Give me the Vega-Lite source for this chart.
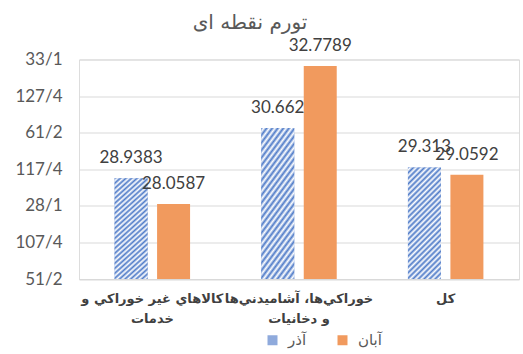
{
  "$schema": "https://vega.github.io/schema/vega-lite/v6.json",
  "width": 440,
  "height": 219.5,
  "autosize": {"type": "none"},
  "padding": {"left": 79, "top": 59.5, "right": 4, "bottom": 75},
  "background": "white",
  "title": {"text": "تورم نقطه ای", "fontSize": 20, "font": "DejaVu Sans", "fontWeight": "normal", "color": "#595959", "anchor": "middle", "dx": -49, "offset": 4},
  "data": {"values": [
    {"category": "کالاهاي غير خوراکي و خدمات", "series": "آذر", "value": 28.9383},
    {"category": "کالاهاي غير خوراکي و خدمات", "series": "آبان", "value": 28.0587},
    {"category": "خوراکي‌ها، آشاميدني‌ها و دخانيات", "series": "آذر", "value": 30.662},
    {"category": "خوراکي‌ها، آشاميدني‌ها و دخانيات", "series": "آبان", "value": 32.7789},
    {"category": "کل", "series": "آذر", "value": 29.313},
    {"category": "کل", "series": "آبان", "value": 29.0592}
  ]},
  "encoding": {
    "x": {
      "field": "category", "type": "nominal", "sort": null,
      "scale": {"paddingInner": 0, "paddingOuter": 0},
      "axis": {
        "title": null, "labelAngle": 0, "ticks": false, "domain": true, "domainColor": "#D9D9D9", "domainWidth": 1,
        "labelFont": "DejaVu Sans", "labelFontWeight": "bold", "labelFontSize": 13, "labelColor": "#404040",
        "labelPadding": 13, "labelLineHeight": 20, "labelOverlap": false, "labelBound": false, "labelLimit": 0,
        "labelExpr": "datum.value == 'کالاهاي غير خوراکي و خدمات' ? ['کالاهاي غير خوراکي و', 'خدمات'] : datum.value == 'خوراکي‌ها، آشاميدني‌ها و دخانيات' ? ['خوراکي‌ها، آشاميدني‌ها', 'و دخانيات'] : datum.value"
      }
    },
    "xOffset": {"field": "series", "type": "nominal", "sort": ["آذر", "آبان"], "scale": {"domain": ["آذر", "آبان"], "paddingInner": 0.2235, "paddingOuter": 0.838}},
    "y": {
      "field": "value", "type": "quantitative",
      "scale": {"domain": [25.5, 33], "zero": false, "nice": false},
      "axis": {
        "title": null, "values": [25.5, 26.75, 28, 29.25, 30.5, 31.75, 33],
        "grid": true, "gridColor": "#D9D9D9", "gridWidth": 1, "domain": false, "ticks": false,
        "labelFont": "Lato", "labelFontSize": 17, "labelColor": "#595959", "labelPadding": 17,
        "labelExpr": "datum.value % 1 == 0 ? datum.value + '/1' : (datum.value * 2) % 1 == 0 ? (datum.value * 2) + '/2' : (datum.value * 4) + '/4'"
      }
    }
  },
  "layer": [
    {
      "mark": {"type": "bar"},
      "encoding": {
        "y2": {"datum": 25.5},
        "color": {
          "field": "series", "type": "nominal",
          "scale": {"domain": ["آذر", "آبان"], "range": ["#8FAADC", "#F19A5E"]},
          "legend": {
            "orient": "none", "legendX": 186, "legendY": 273, "direction": "horizontal", "title": null,
            "symbolType": "square", "symbolSize": 100, "symbolStrokeWidth": 0, "padding": 0,
            "labelFont": "DejaVu Sans", "labelFontSize": 15, "labelColor": "#595959", "labelOffset": 8, "columnPadding": 28
          }
        }
      }
    },
    {
      "transform": [{"filter": "datum.series == 'آذر'"}],
      "mark": {"type": "bar", "fill": {"gradient": "linear", "x1": 0, "y1": 0, "x2": 0.35, "y2": 1.19, "stops": [
              {"offset": 0.00, "color": "#4F7BC8"}, {"offset": 0.0192, "color": "#FFFFFF"},
              {"offset": 0.0385, "color": "#4F7BC8"}, {"offset": 0.0577, "color": "#FFFFFF"},
              {"offset": 0.0769, "color": "#4F7BC8"}, {"offset": 0.0962, "color": "#FFFFFF"},
              {"offset": 0.1154, "color": "#4F7BC8"}, {"offset": 0.1346, "color": "#FFFFFF"},
              {"offset": 0.1538, "color": "#4F7BC8"}, {"offset": 0.1731, "color": "#FFFFFF"},
              {"offset": 0.1923, "color": "#4F7BC8"}, {"offset": 0.2115, "color": "#FFFFFF"},
              {"offset": 0.2308, "color": "#4F7BC8"}, {"offset": 0.2500, "color": "#FFFFFF"},
              {"offset": 0.2692, "color": "#4F7BC8"}, {"offset": 0.2885, "color": "#FFFFFF"},
              {"offset": 0.3077, "color": "#4F7BC8"}, {"offset": 0.3269, "color": "#FFFFFF"},
              {"offset": 0.3462, "color": "#4F7BC8"}, {"offset": 0.3654, "color": "#FFFFFF"},
              {"offset": 0.3846, "color": "#4F7BC8"}, {"offset": 0.4038, "color": "#FFFFFF"},
              {"offset": 0.4231, "color": "#4F7BC8"}, {"offset": 0.4423, "color": "#FFFFFF"},
              {"offset": 0.4615, "color": "#4F7BC8"}, {"offset": 0.4808, "color": "#FFFFFF"},
              {"offset": 0.5000, "color": "#4F7BC8"}, {"offset": 0.5192, "color": "#FFFFFF"},
              {"offset": 0.5385, "color": "#4F7BC8"}, {"offset": 0.5577, "color": "#FFFFFF"},
              {"offset": 0.5769, "color": "#4F7BC8"}, {"offset": 0.5962, "color": "#FFFFFF"},
              {"offset": 0.6154, "color": "#4F7BC8"}, {"offset": 0.6346, "color": "#FFFFFF"},
              {"offset": 0.6538, "color": "#4F7BC8"}, {"offset": 0.6731, "color": "#FFFFFF"},
              {"offset": 0.6923, "color": "#4F7BC8"}, {"offset": 0.7115, "color": "#FFFFFF"},
              {"offset": 0.7308, "color": "#4F7BC8"}, {"offset": 0.7500, "color": "#FFFFFF"},
              {"offset": 0.7692, "color": "#4F7BC8"}, {"offset": 0.7885, "color": "#FFFFFF"},
              {"offset": 0.8077, "color": "#4F7BC8"}, {"offset": 0.8269, "color": "#FFFFFF"},
              {"offset": 0.8462, "color": "#4F7BC8"}, {"offset": 0.8654, "color": "#FFFFFF"},
              {"offset": 0.8846, "color": "#4F7BC8"}, {"offset": 0.9038, "color": "#FFFFFF"},
              {"offset": 0.9231, "color": "#4F7BC8"}, {"offset": 0.9423, "color": "#FFFFFF"},
              {"offset": 0.9615, "color": "#4F7BC8"}, {"offset": 0.9808, "color": "#FFFFFF"},
              {"offset": 1.0000, "color": "#4F7BC8"}
            ]}},
      "encoding": {"y2": {"datum": 25.5}}
    },
    {
      "mark": {"type": "text", "font": "Lato", "fontSize": 17, "color": "#404040", "baseline": "alphabetic", "dy": -15},
      "encoding": {"text": {"field": "value", "type": "nominal"}}
    }
  ]
}
